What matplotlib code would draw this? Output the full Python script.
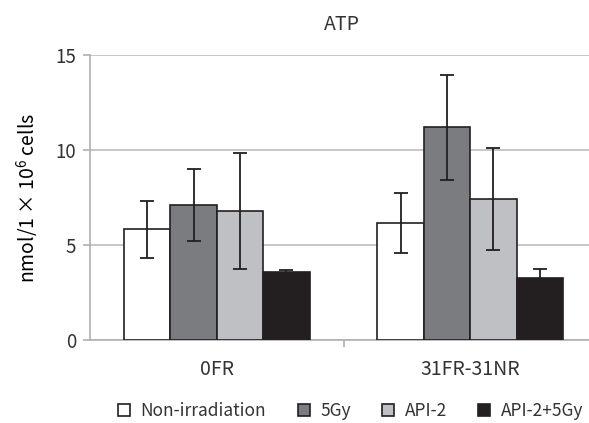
import numpy as np
import matplotlib
matplotlib.use('Agg')
from matplotlib import pyplot as plt

plt.rcParams['font.family'] = ['Noto Sans CJK JP', 'DejaVu Sans']
plt.rcParams['mathtext.fontset'] = 'custom'
plt.rcParams['mathtext.rm'] = 'Noto Sans CJK JP'
plt.rcParams['text.color'] = '#333333'
plt.rcParams['xtick.labelcolor'] = '#333333'
plt.rcParams['ytick.labelcolor'] = '#333333'

groups = ['0FR', '31FR-31NR']
series = ['Non-irradiation', '5Gy', 'API-2', 'API-2+5Gy']
values = [[5.83, 6.16],
          [7.10, 11.19],
          [6.79, 7.42],
          [3.60, 3.25]]
errors = [[1.5, 1.6],
          [1.9, 2.75],
          [3.05, 2.7],
          [0.07, 0.49]]
colors = ['#ffffff', '#7a7c80', '#bfc0c3', '#231f20']

fig = plt.figure(figsize=(5.89, 4.23), dpi=100)
ax = fig.add_axes([90 / 589, 1 - 340 / 423, 499 / 589, 285 / 423])

x = np.arange(len(groups))
w = 0.183
for i, s in enumerate(series):
    pos = x + (i - 1.5) * w
    ax.bar(pos, values[i], w, color=colors[i], edgecolor='#231f20',
           linewidth=1.2, label=s, zorder=3)
    ax.errorbar(pos, values[i], yerr=errors[i], fmt='none', ecolor='#231f20',
                elinewidth=1.3, capsize=5, capthick=1.3, zorder=4)

ax.set_ylim(0, 15)
ax.set_yticks([0, 5, 10, 15])
ax.set_xlim(-0.5, 1.5 - 8 / 253)
ax.set_xticks(x)
ax.set_xticklabels(groups)
ax.set_xticks([0.5], minor=True)
ax.tick_params(axis='x', which='major', length=0, pad=14, labelsize=14)
ax.tick_params(axis='x', which='minor', length=5, color='#b0b0b0', width=1.2)
ax.tick_params(axis='y', length=5, color='#b0b0b0', width=1.2, labelsize=13.5, pad=5)
ax.grid(axis='y', color='#bdbdbd', linewidth=1.2, zorder=0)
for sp in ['top', 'right']:
    ax.spines[sp].set_visible(False)
ax.spines['left'].set_color('#b0b0b0')
ax.spines['bottom'].set_color('#b0b0b0')
ax.spines['left'].set_linewidth(1.2)
ax.spines['bottom'].set_linewidth(1.2)

ax.set_ylabel('nmol/1 × 10$^{6}$ cells', fontsize=14, labelpad=10)
fig.text(342 / 589, 1 - 24 / 423, 'ATP', ha='center', va='center', fontsize=14)

ax.legend(loc='center', bbox_to_anchor=(0.522, -0.25), ncol=4, frameon=False,
          fontsize=12.5, handlelength=0.7, handleheight=0.7, handletextpad=0.6,
          columnspacing=1.8)

fig.savefig('out.png', dpi=100)
